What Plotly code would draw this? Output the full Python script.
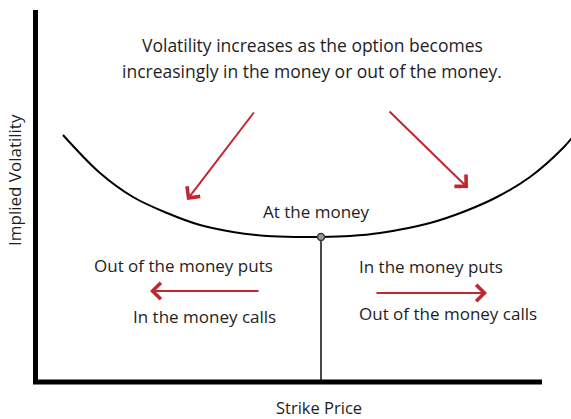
import plotly.graph_objects as go

# ---- data (diagram coordinates: strike on x, implied volatility on y) ----
smile_strike = [63, 100, 133, 167, 200, 233, 267, 300, 321, 350, 380, 430, 463, 497, 530, 563, 575]
smile_vol = [284, 246, 222, 206, 194, 187, 183, 182, 182, 183, 186, 196, 207, 222, 242, 271, 285]

atm_strike = [321]
atm_vol = [182]

# arrows: (tail_x, tail_y, head_x, head_y)
arrow_tail_x = [255, 388, 260, 375]
arrow_tail_y = [308, 309, 128, 126]
arrow_head_x = [187, 468, 150, 487]
arrow_head_y = [219, 231, 128, 126]

title_lines = ["Volatility increases as the option becomes",
               "increasingly in the money or out of the money."]
labels = ["At the money", "Out of the money puts", "In the money calls",
          "In the money puts", "Out of the money calls"]
label_x = [316, 183, 204, 431, 448]
label_y = [208, 154, 103, 153, 106]

x_title = "Strike Price"
y_title = "Implied Volatility"

FONT = "Open Sans"
TXT = "#1e1e1e"
RED = "#c4262e"

fig = go.Figure()

# smile curve
fig.add_trace(go.Scatter(x=smile_strike, y=smile_vol, mode="lines",
                         line=dict(color="black", width=2, shape="spline", smoothing=1.0),
                         hoverinfo="skip", showlegend=False))
# vertical ATM line
fig.add_trace(go.Scatter(x=[atm_strike[0], atm_strike[0]], y=[atm_vol[0], 37], mode="lines",
                         line=dict(color="#4a4a4a", width=2),
                         hoverinfo="skip", showlegend=False))
# ATM marker
fig.add_trace(go.Scatter(x=atm_strike, y=atm_vol, mode="markers",
                         marker=dict(size=7, color="#9a9a9a", line=dict(color="#3a3a3a", width=1.5)),
                         hoverinfo="skip", showlegend=False))

# axes drawn as lines
fig.add_shape(type="line", x0=35.5, x1=35.5, y0=35, y1=409, xref="x", yref="y",
              line=dict(color="black", width=5))
fig.add_shape(type="line", x0=33, x1=542, y0=37, y1=37, xref="x", yref="y",
              line=dict(color="black", width=5))

# arrows
for tx, ty, hx, hy in zip(arrow_tail_x, arrow_tail_y, arrow_head_x, arrow_head_y):
    fig.add_annotation(x=hx, y=hy, ax=tx, ay=ty, xref="x", yref="y", axref="x", ayref="y",
                       text="", showarrow=True, arrowhead=4, arrowsize=1.6,
                       arrowwidth=2, arrowcolor=RED)

# title lines
fig.add_annotation(x=312, y=374, text=title_lines[0], showarrow=False,
                   font=dict(family=FONT, size=17.5, color=TXT), xanchor="center", yanchor="middle")
fig.add_annotation(x=312, y=348, text=title_lines[1], showarrow=False,
                   font=dict(family=FONT, size=17.5, color=TXT), xanchor="center", yanchor="middle")

for t, lx, ly in zip(labels, label_x, label_y):
    fig.add_annotation(x=lx, y=ly, text=t, showarrow=False,
                       font=dict(family=FONT, size=17, color=TXT), xanchor="center", yanchor="middle")

fig.add_annotation(x=319, y=12, text=x_title, showarrow=False,
                   font=dict(family=FONT, size=16.5, color=TXT), xanchor="center", yanchor="middle")
fig.add_annotation(x=14, y=239, text=y_title, showarrow=False, textangle=-90,
                   font=dict(family=FONT, size=17, color=TXT), xanchor="center", yanchor="middle")

fig.update_layout(
    width=571, height=419,
    margin=dict(l=0, r=0, t=0, b=0),
    paper_bgcolor="white", plot_bgcolor="white",
    xaxis=dict(range=[0, 571], visible=False, fixedrange=True),
    yaxis=dict(range=[0, 419], visible=False, fixedrange=True),
    showlegend=False,
)

fig.write_html("out.html", config={"displayModeBar": False},
               post_script="document.body.style.margin='0';document.body.style.overflow='hidden';")
